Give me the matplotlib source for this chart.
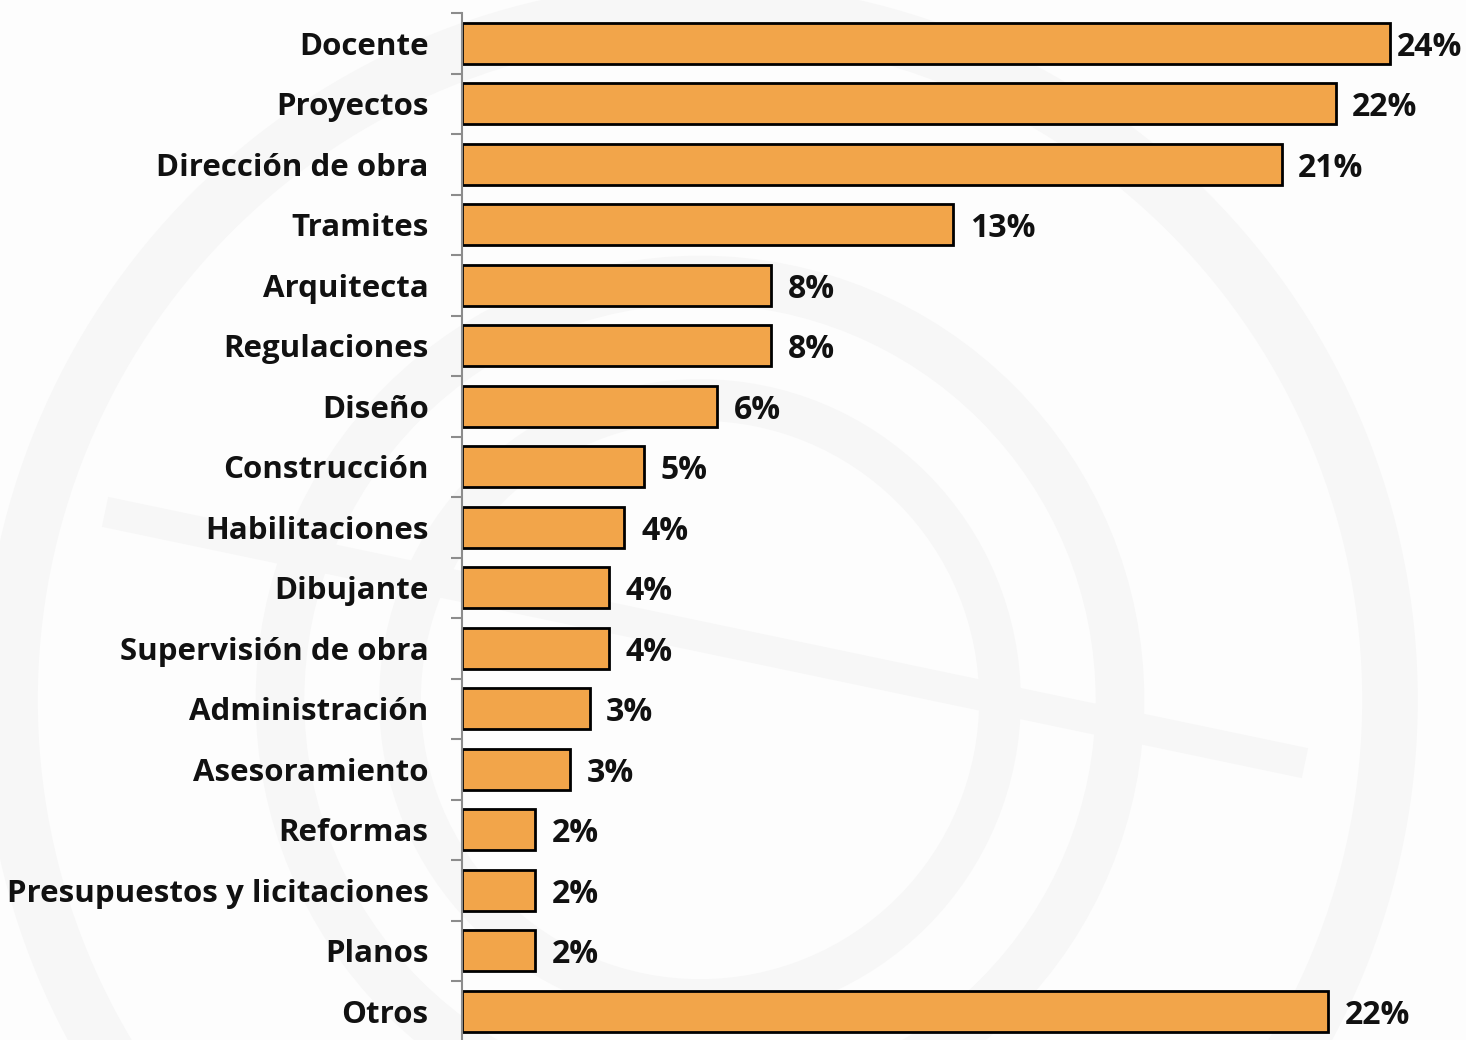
import matplotlib.pyplot as plt
import numpy as np
from matplotlib.patches import Circle

categorias = ['Docente', 'Proyectos', 'Dirección de obra', 'Tramites', 'Arquitecta',
              'Regulaciones', 'Diseño', 'Construcción', 'Habilitaciones', 'Dibujante',
              'Supervisión de obra', 'Administración', 'Asesoramiento', 'Reformas',
              'Presupuestos y licitaciones', 'Planos', 'Otros']
valores = [24.0, 22.6, 21.2, 12.7, 8.0, 8.0, 6.6, 4.7, 4.2, 3.8, 3.8, 3.3, 2.8, 1.9, 1.9, 1.9, 22.4]
etiquetas = ['24%', '22%', '21%', '13%', '8%', '8%', '6%', '5%', '4%', '4%', '4%',
             '3%', '3%', '2%', '2%', '2%', '22%']

plt.rcParams['font.family'] = ['Open Sans', 'DejaVu Sans']

fig = plt.figure(figsize=(14.66, 10.4), dpi=100)
fig.patch.set_facecolor('#fdfdfd')

# faint watermark rings in the background
bg = fig.add_axes([0, 0, 1, 1], zorder=0)
bg.set_xlim(0, 1466)
bg.set_ylim(1040, 0)
bg.axis('off')
for r, w in [(690, 40), (420, 35), (300, 30)]:
    bg.add_patch(Circle((700, 700), r, fill=False, ec='#f7f7f7', lw=w))
bg.plot([120, 1290], [515, 760], color='#f7f7f7', lw=22)

ax = fig.add_axes([462 / 1466, -0.0015, 978 / 1466, 0.989], zorder=1)
ax.patch.set_alpha(0)
y = np.arange(len(categorias))
ax.barh(y, valores, height=0.68, color='#f2a54a', edgecolor='black', linewidth=2)
ax.set_ylim(len(categorias) - 0.5, -0.5)
ax.set_xlim(0, 25.3)

ax.set_yticks(y)
ax.set_yticklabels(categorias, fontsize=22.5, fontweight='bold', color='#111111')
ax.tick_params(axis='y', which='major', length=0, pad=24)
ax.set_yticks(np.arange(len(categorias) + 1) - 0.5, minor=True)
ax.tick_params(axis='y', which='minor', length=8, width=1.5, color='#8c8c8c')
ax.set_xticks([])
for s in ['top', 'right', 'bottom']:
    ax.spines[s].set_visible(False)
ax.spines['left'].set_color('#8c8c8c')
ax.spines['left'].set_linewidth(1.5)

for i, (v, t) in enumerate(zip(valores, etiquetas)):
    off = 12 if v < 23 else 5
    ax.annotate(t, (v, i), xytext=(off, 0), textcoords='offset points',
                va='center_baseline', ha='left', fontsize=23, fontweight='bold', color='#111111')

fig.savefig('out.png', dpi=100, facecolor=fig.get_facecolor())
